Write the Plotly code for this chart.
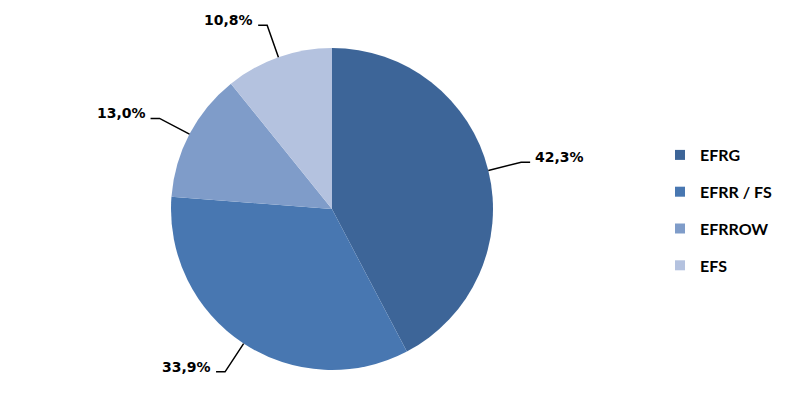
import math
import plotly.graph_objects as go

labels = ["EFRG", "EFRR / FS", "EFRROW", "EFS"]
values = [42.3, 33.9, 13.0, 10.8]
value_text = ["42,3%", "33,9%", "13,0%", "10,8%"]
colors = ["#3D6598", "#4877B1", "#7F9CC9", "#B4C2DF"]

W, H = 787, 418
OFF = 8  # page body margin of the html page
CX, CY, R = 332, 209, 161  # pie centre / radius in screen pixels (layout)

def px(x, y):
    return (x - OFF) / W, 1 - (y - OFF) / H

fig = go.Figure()
dx0, dy1 = px(CX - R, CY - R)
dx1, dy0 = px(CX + R, CY + R)
fig.add_trace(go.Pie(
    labels=labels, values=values, sort=False, direction="clockwise", rotation=0,
    marker=dict(colors=colors, line=dict(width=0)),
    textinfo="none", hoverinfo="label+percent", showlegend=False,
    domain=dict(x=[dx0, dx1], y=[dy0, dy1]),
))

# legend entries (one group each so that spacing can be set)
for lab, col in zip(labels, colors):
    fig.add_trace(go.Scatter(
        x=[None], y=[None], mode="markers", name=lab, legendgroup=lab,
        marker=dict(symbol="square", size=10, color=col),
    ))

total = sum(values)
cum = 0.0
shapes, annots = [], []
for v, t in zip(values, value_text):
    mid = (cum + v / 2) / total * 2 * math.pi
    cum += v
    s, c = math.sin(mid), math.cos(mid)
    x0, y0 = CX + R * s, CY - R * c
    re = 1.21 * R
    x1, y1 = CX + re * s, CY - re * c
    side = 1 if s >= 0 else -1
    x2 = x1 + side * 9
    pts = [px(x0, y0), px(x1, y1), px(x2, y1)]
    path = "M {} {} L {} {} L {} {}".format(*[a for p in pts for a in p])
    shapes.append(dict(type="path", path=path, xref="paper", yref="paper",
                       line=dict(color="black", width=1.5)))
    ax, ay = px(x2 + side * 3, y1 - 5)
    annots.append(dict(x=ax, y=ay, xref="paper", yref="paper", text=t, showarrow=False,
                       xanchor="left" if side > 0 else "right", yanchor="middle",
                       font=dict(family="DejaVu Sans", size=14, color="black", weight="bold")))

lx, ly = px(660, 138)
fig.update_layout(
    width=W, height=H, margin=dict(l=0, r=0, t=0, b=0),
    paper_bgcolor="white", plot_bgcolor="white",
    xaxis=dict(visible=False), yaxis=dict(visible=False),
    shapes=shapes, annotations=annots,
    legend=dict(x=lx, y=ly, xanchor="left", yanchor="top",
                tracegroupgap=13, font=dict(family="Lato", size=16, color="black", weight="bold"),
                bgcolor="rgba(0,0,0,0)"),
)

fig.write_html("out.html")
